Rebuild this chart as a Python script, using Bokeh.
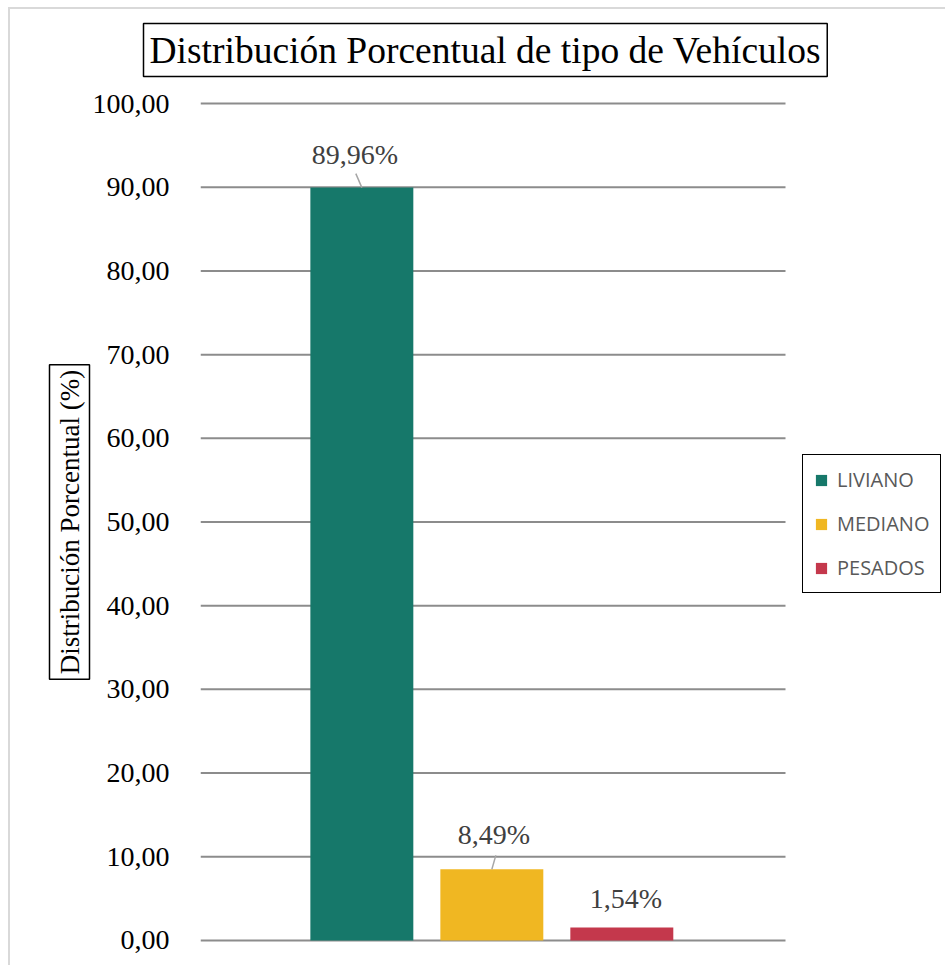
from bokeh.plotting import figure
from bokeh.models import (Range1d, FixedTicker, CustomJSTickFormatter, Legend, LegendItem,
                          Title, ColumnDataSource)
from bokeh.core.properties import value
from bokeh.embed import file_html
from bokeh.resources import INLINE

# ---- data ----
series = ["LIVIANO", "MEDIANO", "PESADOS"]
percent = [89.96, 8.49, 1.54]
pct_labels = ["89,96%", "8,49%", "1,54%"]
colors = ["#16786A", "#F0B722", "#C4384C"]
y_ticks = [0, 10, 20, 30, 40, 50, 60, 70, 80, 90, 100]
title_text = "Distribución Porcentual de tipo de Vehículos"
y_title = "Distribución Porcentual (%)"

# ---- layout / style ----
slot = 0.2222          # distance between bar centres (fraction of category)
bar_w = 0.176
positions = [(i - 1) * slot - 0.002 for i in range(len(series))]
lbl_dx = [-7, 2, 4]     # label screen offsets (px)
lbl_dy = [-33, -35, -29]
plot_px = 585.0          # width of the bar area in px
frame_px = 745           # frame incl. legend area
x_end = -0.5 + frame_px / plot_px

p = figure(frame_width=frame_px, frame_height=841, output_backend="svg", toolbar_location=None,
           x_range=Range1d(-0.5, x_end), y_range=Range1d(-0.25, 100.25),
           min_border_left=200, min_border_right=0, min_border_top=99,
           min_border_bottom=25, title=None)
p.outline_line_color = None
p.background_fill_color = "white"
p.border_fill_color = None
p.styles = {"background": "linear-gradient(#d9d9d9, #d9d9d9) 8px 7px / 100% 2px no-repeat, "
                          "linear-gradient(#d9d9d9, #d9d9d9) 8px 7px / 2px 100% no-repeat, white"}

main_title = Title(text=title_text, align="left", offset=-57, vertical_align="top",
                   text_font="Liberation Serif",
                   text_font_size="37.5px", text_font_style="normal", text_color="black",
                   border_line_color="black", border_line_width=1.5,
                   background_fill_color="white", padding=6, standoff=46)
p.add_layout(main_title, "above")

p.xaxis.visible = False
p.xgrid.grid_line_color = None
p.ygrid.grid_line_color = None
p.yaxis.ticker = FixedTicker(ticks=y_ticks)
p.yaxis.formatter = CustomJSTickFormatter(code="return tick.toFixed(2).replace('.', ',');")
p.yaxis.axis_line_color = None
p.yaxis.major_tick_line_color = None
p.yaxis.minor_tick_line_color = None
p.yaxis.major_label_text_font = "Liberation Serif"
p.yaxis.major_label_text_font_size = "28px"
p.yaxis.major_label_text_color = "black"
p.yaxis.major_label_standoff = 25

ytitle = Title(text=y_title, align="center", text_font="Liberation Serif",
               text_font_size="27px", text_font_style="normal", text_color="black",
               border_line_color="black", border_line_width=1.5,
               background_fill_color="white", padding=5, standoff=0)
p.add_layout(ytitle, "left")

# horizontal gridlines across the bar area only
p.segment(x0=[-0.5] * len(y_ticks), x1=[0.5] * len(y_ticks), y0=y_ticks, y1=y_ticks,
          line_color="#8c8c8c", line_width=2)

items = []
for i, s in enumerate(series):
    src = ColumnDataSource(dict(x=[positions[i]], top=[percent[i]], lab=[pct_labels[i]]))
    r = p.vbar(x="x", top="top", bottom=0, width=bar_w, source=src,
               fill_color=colors[i], line_color=None)
    items.append(LegendItem(label=s, renderers=[r]))
    p.text(x="x", y="top", text="lab", source=src, text_font=value("Liberation Serif"),
           text_font_size="28px", text_color="#404040", text_align="center",
           text_baseline="middle", x_offset=lbl_dx[i], y_offset=lbl_dy[i])

# leader lines for the two moved labels
px_x = 1.0 / plot_px
px_y = 100.0 / 837.0
lead_x0 = [positions[0] - 6 * px_x, positions[1] + 4 * px_x]
lead_y0 = [percent[0] + 14 * px_y, percent[1] + 14 * px_y]
lead_x1 = [positions[0], positions[1]]
lead_y1 = [percent[0], percent[1]]
p.segment(x0=lead_x0, y0=lead_y0, x1=lead_x1, y1=lead_y1, line_color="#a6a6a6", line_width=1.5)

legend = Legend(items=items, location=(602, 349), orientation="vertical",
                border_line_color="black", border_line_width=1.5, border_line_alpha=1,
                background_fill_color="white", label_text_font="Open Sans",
                label_text_font_size="20px", label_text_color="#595959",
                glyph_width=14, glyph_height=14, label_standoff=9, spacing=17,
                padding=11, margin=0)
p.add_layout(legend)

open("out.html", "w").write(file_html(p, INLINE))
